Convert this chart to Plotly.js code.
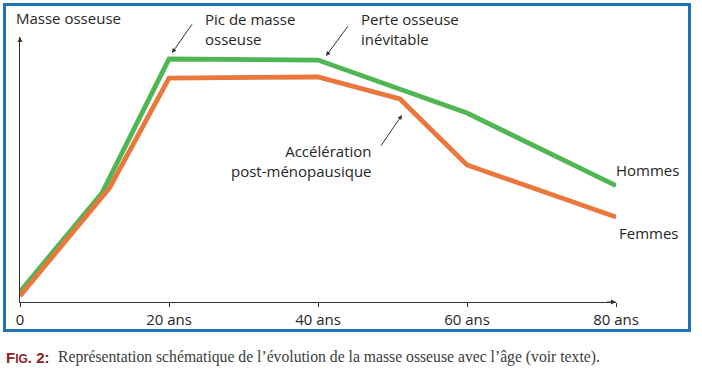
<!DOCTYPE html>
<html>
<head>
<meta charset="utf-8">
<script src="https://cdn.plot.ly/plotly-3.0.1.min.js"></script>
<style>html,body{margin:0;padding:0;background:#fff;}#chart{width:702px;height:370px;}</style>
</head>
<body>
<div id="chart"></div>
<script>
// Data (schematic bone-mass curves)
var agesHommes = [0, 11, 20, 40, 60, 80];
var masseHommes = [3.9, 41.1, 91.7, 91.3, 71.3, 43.9];
var agesFemmes = [0, 12, 20, 40, 51, 60, 80];
var masseFemmes = [2.3, 43.0, 84.5, 84.9, 76.6, 51.7, 32.1];
var tickVals = [0, 20, 40, 60, 80];
var tickLabels = ['0', '20 ans', '40 ans', '60 ans', '80 ans'];
var seriesNames = ['Hommes', 'Femmes'];

var W = 702, H = 370;
var M = {l: 20, r: 86, t: 37, b: 68};
var PW = W - M.l - M.r, PH = H - M.t - M.b;
function px(x) { return (x - M.l) / PW; }
function py(y) { return (H - M.b - y) / PH; }

var FONT = 'Open Sans, sans-serif';
var TXT = '#262626';
var GREEN = '#50b653';
var ORANGE = '#ea773b';

var traces = [
  {x: agesHommes, y: masseHommes, name: seriesNames[0], mode: 'lines', type: 'scatter',
   line: {color: GREEN, width: 4.8}, cliponaxis: false},
  {x: agesFemmes, y: masseFemmes, name: seriesNames[1], mode: 'lines', type: 'scatter',
   line: {color: ORANGE, width: 4.8}, cliponaxis: false}
];

function label(text, x, y, xanchor, align) {
  return {text: text, xref: 'paper', yref: 'paper', x: px(x), y: py(y),
    xanchor: xanchor, yanchor: 'middle', align: align || 'left', showarrow: false,
    font: {family: FONT, size: 15, color: TXT}};
}
function arrow(x0, y0, x1, y1) {
  return {text: ' ', xref: 'paper', yref: 'paper', x: px(x1), y: py(y1),
    ax: x0 - x1, ay: y0 - y1, showarrow: true, arrowhead: 2, arrowsize: 0.9,
    arrowwidth: 1, arrowcolor: '#333', standoff: 0, startstandoff: 0};
}

var annotations = [
  label('Masse osseuse', 14, 18, 'left'),
  label('Pic de masse<br>osseuse', 203, 29, 'left'),
  label('Perte osseuse<br>inévitable', 359, 29, 'left'),
  label('Accélération<br>post-ménopausique', 374, 160.5, 'right', 'right'),
  label(seriesNames[0], 681, 170, 'right'),
  label(seriesNames[1], 681, 233, 'right'),
  arrow(195, 20, 172, 53),
  arrow(351, 22, 326, 56),
  arrow(378, 150, 402, 115),
  // axis arrowheads
  {text: ' ', xref: 'x', yref: 'y', x: 80, y: 0, ax: -12, ay: 0, showarrow: true,
   arrowhead: 2, arrowsize: 1, arrowwidth: 1, arrowcolor: '#333', standoff: 0},
  {text: ' ', xref: 'x', yref: 'y', x: 0, y: 100, ax: 0, ay: 12, showarrow: true,
   arrowhead: 2, arrowsize: 1, arrowwidth: 1, arrowcolor: '#333', standoff: 0},
  // caption
  {text: '<b>F<span style="font-size:12px">IG</span>. 2:</b>', xref: 'paper', yref: 'paper',
   x: px(4), y: py(357), xanchor: 'left', yanchor: 'middle', showarrow: false,
   font: {family: 'Liberation Sans, sans-serif', size: 15, color: '#8a1f1f'}},
  {text: 'Représentation schématique de l\u2019évolution de la masse osseuse avec l\u2019âge (voir texte).',
   xref: 'paper', yref: 'paper', x: px(56), y: py(357), xanchor: 'left', yanchor: 'middle',
   showarrow: false, font: {family: 'Liberation Serif, serif', size: 15.7, color: '#3c3c3c'}}
];

var layout = {
  width: W, height: H,
  margin: M,
  paper_bgcolor: '#fff', plot_bgcolor: '#fff',
  showlegend: false,
  hovermode: false,
  xaxis: {range: [0, 80], showgrid: false, zeroline: false, showline: true,
    linecolor: '#333', linewidth: 1, ticks: 'outside', ticklen: 4, tickwidth: 1,
    tickcolor: '#333', tickvals: tickVals, ticktext: tickLabels,
    tickfont: {family: FONT, size: 15, color: TXT}, fixedrange: true},
  yaxis: {range: [0, 100], showgrid: false, zeroline: false, showline: true,
    linecolor: '#333', linewidth: 1, ticks: '', showticklabels: false, fixedrange: true},
  shapes: [
    {type: 'rect', xref: 'paper', yref: 'paper', x0: px(4.5), x1: px(689.5),
     y0: py(330.5), y1: py(4.5), line: {color: '#1f74b8', width: 3}, layer: 'below'}
  ],
  annotations: annotations
};

Plotly.newPlot('chart', traces, layout, {displayModeBar: false, staticPlot: true});
</script>
</body>
</html>
